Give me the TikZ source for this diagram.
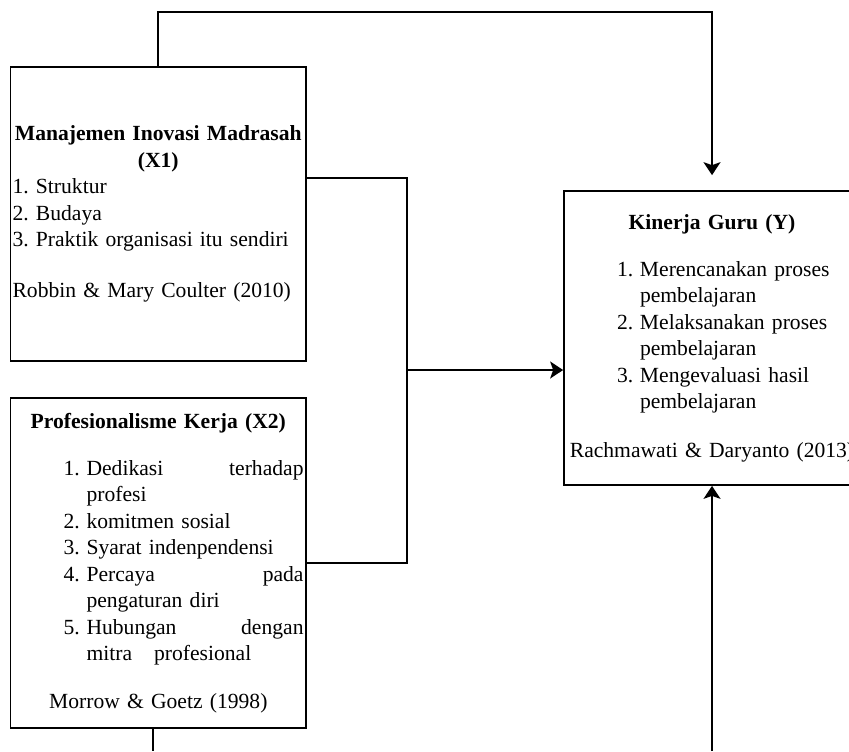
\documentclass[tikz,border=0pt]{standalone}
\usepackage{fontspec}
\setmainfont{Liberation Serif}
\usetikzlibrary{arrows.meta}
\setlength{\parindent}{0pt}
\frenchspacing
\newcommand{\itm}[2]{\hspace*{25.5pt}\makebox[11.5pt][l]{#1}#2}
\newcommand{\spreadline}[2]{\makebox[108.5pt][s]{#1\hfill #2}}

\begin{document}
\begin{tikzpicture}[
        x=0.5pt, y=-0.5pt,
        font=\fontsize{10.8}{13.25}\selectfont,
        conn/.style={line width=0.85pt},
        arr/.style={conn, -{Stealth[length=6.5pt,width=8.5pt,inset=1.5pt]}},
        varbox/.style={draw, line width=0.85pt, inner xsep=1pt, inner ysep=0pt, align=left,
            minimum width=147.75pt, minimum height=147pt, text width=145.75pt}
    ]
        \clip (0,0) rectangle (849,751);

        % variables
        \node[varbox] (x1) at (158.3,214) {%
            {\centering\mbox{\textbf{Manajemen Inovasi Madrasah}}\\\textbf{(X1)}\par}
            1. Struktur\\
            2. Budaya\\
            3. Praktik organisasi itu sendiri\par\vspace{12.25pt}
            Robbin \& Mary Coulter (2010)\par\vspace{-2pt}};

        \node[varbox, minimum height=165pt] (x2) at (158.3,563) {%
            {\centering\textbf{Profesionalisme Kerja (X2)}\par}\vspace{10.25pt}
            \itm{1.}{\spreadline{Dedikasi}{terhadap}}\\
            \itm{}{profesi}\\
            \itm{2.}{komitmen sosial}\\
            \itm{3.}{Syarat indenpendensi}\\
            \itm{4.}{\spreadline{Percaya}{pada}}\\
            \itm{}{pengaturan diri}\\
            \itm{5.}{\spreadline{Hubungan}{dengan}}\\
            \itm{}{mitra\hspace{11pt}profesional}\par\vspace{10.75pt}
            {\centering Morrow \& Goetz (1998)\par}\vspace{-4pt}};

        \node[varbox, minimum width=148pt, text width=146pt] (y) at (712,338) {%
            {\centering\textbf{Kinerja Guru (Y)}\par}\vspace{10.25pt}
            \itm{1.}{Merencanakan proses}\\
            \itm{}{pembelajaran}\\
            \itm{2.}{Melaksanakan proses}\\
            \itm{}{pembelajaran}\\
            \itm{3.}{Mengevaluasi hasil}\\
            \itm{}{pembelajaran}\par\vspace{11pt}
            {\centering Rachmawati \& Daryanto (2013)\par}\vspace{-4pt}};

        % connectors
        \coordinate (top) at (712,12);
        \coordinate (j) at (407,370);
        \coordinate (b1) at (153,751);
        \coordinate (b2) at (712,751);

        \draw[arr] (x1.north) |- (top) -- ([yshift=7.5pt]y.north);
        \draw[conn] ([yshift=18pt]x1.east) -| (j) |- (x2.east);
        \draw[arr] (j) -- (j -| y.west);
        \draw[conn] (b1 |- x2.south) -- (b1);
        \draw[arr] (b2) -- (y.south);
    \end{tikzpicture}
\end{document}
